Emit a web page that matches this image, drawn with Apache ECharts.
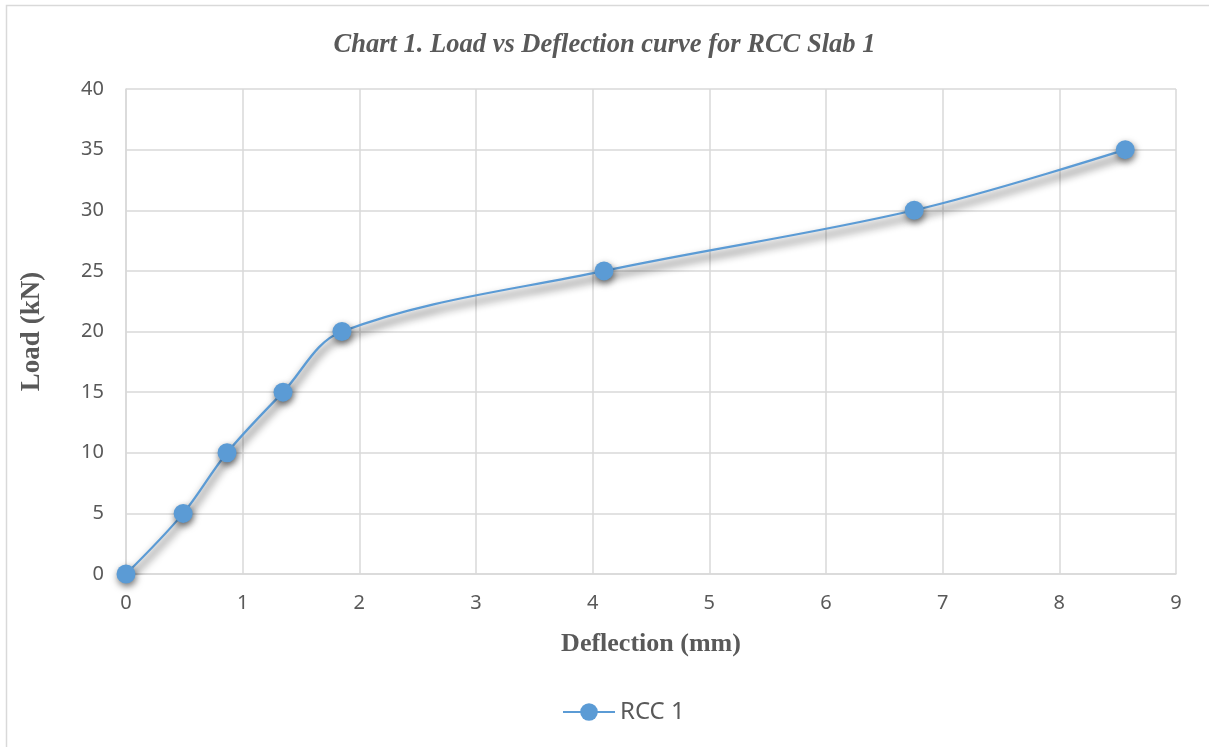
<!DOCTYPE html>
<html>
<head>
<meta charset="utf-8">
<script src="https://cdn.jsdelivr.net/npm/echarts@6/dist/echarts.min.js"></script>
<style>
  html, body { margin: 0; padding: 0; background: #fff; }
  #chart { width: 1209px; height: 747px; }
</style>
</head>
<body>
<div id="chart"></div>
<script>
// Load vs deflection readings for RCC Slab 1
const deflection = [0, 0.49, 0.866, 1.346, 1.851, 4.097, 6.756, 8.565];
const load = [0, 5, 10, 15, 20, 25, 30, 35];
const seriesName = 'RCC 1';

const points = deflection.map((d, i) => [d, load[i]]);

const chart = echarts.init(document.getElementById('chart'));
const gray = '#595959';
const gridColor = '#d9d9d9';

chart.setOption({
  animation: false,
  backgroundColor: '#ffffff',
  graphic: [{
    type: 'rect',
    shape: { x: 6.5, y: 5.5, width: 1220, height: 800 },
    style: { fill: 'none', stroke: '#d9d9d9', lineWidth: 1.5 },
    silent: true
  }],
  title: {
    text: 'Chart 1. Load vs Deflection curve for RCC Slab 1',
    left: 'center',
    top: 27,
    textStyle: {
      fontFamily: 'Liberation Serif',
      fontStyle: 'italic',
      fontWeight: 'bold',
      fontSize: 26.5,
      color: gray
    }
  },
  legend: {
    bottom: 18,
    left: 557,
    itemWidth: 52,
    itemHeight: 22,
    itemGap: 10,
    textStyle: { fontFamily: 'Noto Sans', fontSize: 24, color: gray },
    data: [seriesName]
  },
  grid: { left: 126, right: 33, top: 89, bottom: 173 },
  xAxis: {
    type: 'value',
    min: 0, max: 9, interval: 1,
    name: 'Deflection (mm)',
    nameLocation: 'middle',
    nameGap: 57,
    nameTextStyle: {
      fontFamily: 'Liberation Serif', fontWeight: 'bold', fontSize: 26, color: gray
    },
    axisLine: { lineStyle: { color: gridColor, width: 1.5 } },
    axisTick: { show: false },
    axisLabel: { fontFamily: 'Noto Sans', fontSize: 20, color: gray, margin: 19 },
    splitLine: { show: true, lineStyle: { color: gridColor, width: 1.5 } }
  },
  yAxis: {
    type: 'value',
    min: 0, max: 40, interval: 5,
    name: 'Load (kN)',
    nameLocation: 'middle',
    nameGap: 80,
    nameRotate: 90,
    nameTextStyle: {
      fontFamily: 'Liberation Serif', fontWeight: 'bold', fontSize: 27, color: gray
    },
    axisLine: { show: true, lineStyle: { color: gridColor, width: 1.5 } },
    axisTick: { show: false },
    axisLabel: { fontFamily: 'Noto Sans', fontSize: 20, color: gray, margin: 22 },
    splitLine: { show: true, lineStyle: { color: gridColor, width: 1.5 } }
  },
  series: [{
    name: seriesName,
    type: 'line',
    data: points,
    smooth: 0.35,
    symbol: 'circle',
    symbolSize: 19,
    lineStyle: {
      color: '#5B9BD5',
      width: 2.25,
      shadowColor: 'rgba(0,0,0,0.95)',
      shadowBlur: 9,
      shadowOffsetX: 1,
      shadowOffsetY: 6
    },
    itemStyle: {
      color: '#5B9BD5',
      shadowColor: 'rgba(0,0,0,0.55)',
      shadowBlur: 7,
      shadowOffsetX: 1,
      shadowOffsetY: 3
    },
    emphasis: { disabled: true }
  }]
});
</script>
</body>
</html>
